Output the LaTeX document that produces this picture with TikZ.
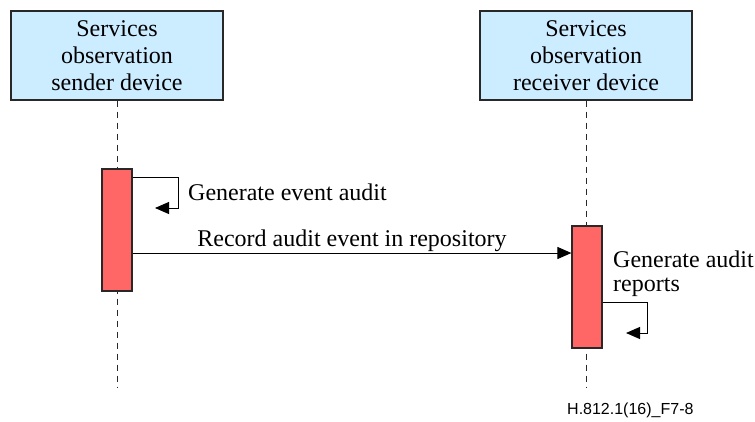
\documentclass[tikz,border=0pt]{standalone}
\usepackage{fontspec}
\setmainfont{Liberation Serif}
\newfontfamily\labelsans{Liberation Sans}
\usetikzlibrary{arrows.meta}
\definecolor{boxblue}{RGB}{204,236,255}
\definecolor{barred}{RGB}{255,102,102}
\definecolor{edge}{RGB}{40,40,40}
\tikzset{
  actor/.style={draw=edge, line width=1.2pt, fill=boxblue, minimum width=212pt, minimum height=89pt, align=center, font=\fontsize{24}{27}\selectfont, inner sep=0pt},
  bar/.style={draw=edge, line width=1.2pt, fill=barred, minimum width=30pt, inner sep=0pt},
  life/.style={draw=edge, line width=1pt, dash pattern=on 6pt off 5pt},
  msg/.style={draw=black, line width=1pt, -{Triangle[length=14pt,width=12pt]}},
  lbl/.style={font=\fontsize{24}{24}\selectfont, inner sep=0pt, align=left}
}
\begin{document}
\begin{tikzpicture}[x=1pt,y=-1pt]
\useasboundingbox (0,0) rectangle (755,421);
\node[actor] (s) at (117,55.5) {Services\\observation\\sender device};
\node[actor] (r) at (586,55.5) {Services\\observation\\receiver device};
\coordinate (se) at (117,388);
\coordinate (re) at (586,388);
\draw[life] (s.south) -- (se);
\draw[life] (r.south) -- (re);
\node[bar, minimum height=122pt] (a1) at (117,230) {};
\node[bar, minimum height=122pt] (a2) at (587,287) {};
% self call 1
\coordinate (c1a) at (a1.east |- 0,177);
\coordinate (c1b) at (178,177);
\coordinate (c1c) at (178,208);
\coordinate (c1d) at (155,208);
\draw[msg] (c1a) -- (c1b) -- (c1c) -- (c1d);
\node[lbl, anchor=west] (l1) at (188,192) {Generate event audit};
% message
\coordinate (m1) at (a1.east |- 0,253);
\coordinate (m2) at (a2.west |- 0,253);
\draw[msg] (m1) -- (m2);
\node[lbl, anchor=base] (l2) at (352,246) {Record audit event in repository};
% self call 2
\coordinate (c2a) at (a2.east |- 0,302);
\coordinate (c2b) at (647,302);
\coordinate (c2c) at (647,333);
\coordinate (c2d) at (626,333);
\draw[msg] (c2a) -- (c2b) -- (c2c) -- (c2d);
\node[lbl, anchor=base west] (l3) at (613,291) {Generate audit\\reports};
\node[anchor=west, inner sep=0pt, font=\labelsans\fontsize{16}{18}\selectfont] (fig) at (567,410) {H.812.1(16)\_F7-8};
\end{tikzpicture}
\end{document}
